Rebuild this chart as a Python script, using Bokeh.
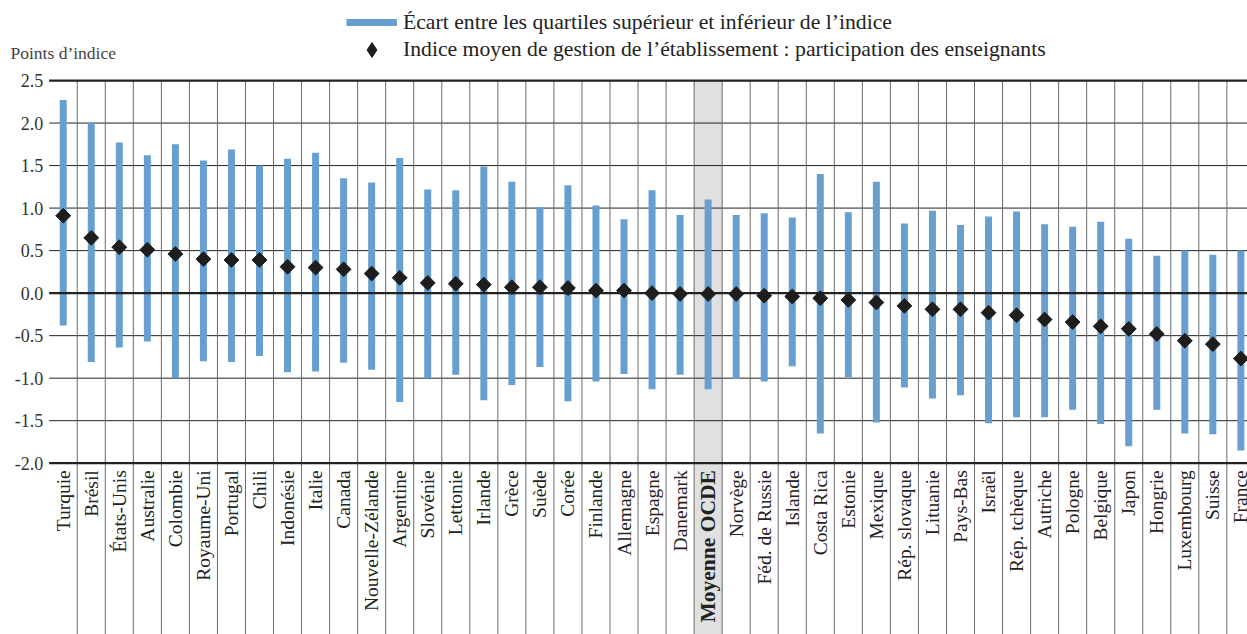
import math
from bokeh.plotting import figure
from bokeh.models import Range1d, Legend, LegendItem, Label, BoxAnnotation
from bokeh.embed import file_html
from bokeh.resources import INLINE

# ---------------- data ----------------
countries = ["Turquie", "Brésil", "États-Unis", "Australie", "Colombie", "Royaume-Uni",
             "Portugal", "Chili", "Indonésie", "Italie", "Canada", "Nouvelle-Zélande",
             "Argentine", "Slovénie", "Lettonie", "Irlande", "Grèce", "Suède", "Corée",
             "Finlande", "Allemagne", "Espagne", "Danemark", "Moyenne OCDE", "Norvège",
             "Féd. de Russie", "Islande", "Costa Rica", "Estonie", "Mexique",
             "Rép. slovaque", "Lituanie", "Pays-Bas", "Israël", "Rép. tchèque",
             "Autriche", "Pologne", "Belgique", "Japon", "Hongrie", "Luxembourg",
             "Suisse", "France"]
upper_quartile = [2.27, 2.00, 1.77, 1.62, 1.75, 1.56, 1.69, 1.50, 1.58, 1.65, 1.35, 1.30,
                  1.59, 1.22, 1.21, 1.49, 1.31, 1.01, 1.27, 1.03, 0.87, 1.21, 0.92, 1.10,
                  0.92, 0.94, 0.89, 1.40, 0.95, 1.31, 0.82, 0.97, 0.80, 0.90, 0.96, 0.81,
                  0.78, 0.84, 0.64, 0.44, 0.50, 0.45, 0.50]
lower_quartile = [-0.38, -0.81, -0.64, -0.57, -1.00, -0.80, -0.81, -0.74, -0.93, -0.92,
                  -0.82, -0.90, -1.28, -1.00, -0.96, -1.26, -1.08, -0.87, -1.27, -1.04,
                  -0.95, -1.13, -0.96, -1.13, -1.01, -1.04, -0.86, -1.65, -0.99, -1.52,
                  -1.11, -1.24, -1.20, -1.53, -1.46, -1.46, -1.37, -1.54, -1.80, -1.37,
                  -1.65, -1.66, -1.85]
mean_index = [0.91, 0.65, 0.54, 0.51, 0.46, 0.40, 0.39, 0.39, 0.31, 0.30, 0.28, 0.23,
              0.18, 0.12, 0.11, 0.10, 0.07, 0.07, 0.06, 0.03, 0.03, 0.00, -0.01, -0.01,
              -0.01, -0.03, -0.04, -0.06, -0.08, -0.11, -0.15, -0.19, -0.19, -0.23,
              -0.26, -0.31, -0.34, -0.39, -0.42, -0.48, -0.56, -0.60, -0.77]
y_ticks = [-2.0, -1.5, -1.0, -0.5, 0.0, 0.5, 1.0, 1.5, 2.0, 2.5]
y_tick_labels = ["-2.0", "-1.5", "-1.0", "-0.5", "0.0", "0.5", "1.0", "1.5", "2.0", "2.5"]
highlight = "Moyenne OCDE"
legend_range = "Écart entre les quartiles supérieur et inférieur de l’indice"
legend_mean = "Indice moyen de gestion de l’établissement : participation des enseignants"
y_title = "Points d’indice"

# ---------------- styles ----------------
BLUE = "#67a0d0"
DARK = "#1e1e1e"
GRID = "#222222"
VGRID = "#6a6a6a"
SERIF = "Liberation Serif"
SANS = "DejaVu Sans"

n = len(countries)
xs = [i + 0.5 for i in range(n)]
hi = countries.index(highlight)
bounds = list(range(1, n))
y_lo, y_hi = y_ticks[0], y_ticks[-1]

# The frame covers the whole canvas; the ranges are padded so that the value
# scale (-2.0 .. 2.5) sits where it does in the original and the category
# labels / legend live inside the frame.
Y_START, Y_END = -4.014, 3.441
X_START, X_END = -1.737, 42.736
p = figure(width=1247, height=634, output_backend="svg", toolbar_location=None,
           x_range=Range1d(X_START, X_END), y_range=Range1d(Y_START, Y_END),
           x_axis_location=None, y_axis_location=None, min_border=0)
p.outline_line_color = None
p.background_fill_color = "white"
p.grid.visible = False

# highlight band for the OECD average (runs through the label area)
p.add_layout(BoxAnnotation(left=hi, right=hi + 1, top=y_hi,
                           fill_color="#e0e0e0", fill_alpha=1.0, line_color=None,
                           level="image"))

# horizontal grid lines
p.segment(x0=[0] * len(y_ticks), x1=[n] * len(y_ticks), y0=y_ticks, y1=y_ticks,
          line_color=GRID, line_width=1)
# category separators (down through the label area)
p.segment(x0=bounds, x1=bounds, y0=[Y_START] * len(bounds), y1=[y_hi] * len(bounds),
          line_color=VGRID, line_width=1)

# bars (interquartile range)
seg = p.segment(x0=xs, y0=lower_quartile, x1=xs, y1=upper_quartile,
                line_color=BLUE, line_width=7)
# thick lines at bottom, 0 and top of the value scale
thick = [y_lo, 0.0, y_hi]
p.segment(x0=[0] * 3, x1=[n] * 3, y0=thick, y1=thick, line_color=GRID, line_width=2.2)
# mean markers: a diamond (used as legend key) covered by a rotated square
sc_key = p.scatter(x=xs, y=mean_index, marker="diamond", size=13,
                   fill_color=DARK, line_color=DARK, line_width=1)
sc = p.scatter(x=xs, y=mean_index, marker="square", size=10.5, angle=math.pi / 4,
               fill_color=DARK, line_color=DARK, line_width=1)

# y tick labels
p.text(x=[0] * len(y_ticks), y=y_ticks, text=y_tick_labels, x_offset=-6,
       text_align="right", text_baseline="middle", text_font=SANS,
       text_font_size="18px", text_color="#333333")

# category labels (rotated), OECD average in bold
reg = [i for i, c in enumerate(countries) if c != highlight]
p.text(x=[xs[i] for i in reg], y=[y_lo] * len(reg), text=[countries[i] for i in reg],
       angle=math.pi / 2, text_align="right", text_baseline="middle", y_offset=7,
       text_font=SERIF, text_font_size="19.5px", text_color="#222222")
p.text(x=[xs[hi]], y=[y_lo], text=[highlight],
       angle=math.pi / 2, text_align="right", text_baseline="middle", y_offset=7,
       text_font=SERIF, text_font_size="21.5px", text_font_style="bold",
       text_color="#222222")

# y-axis title
p.add_layout(Label(x=10, y=582, x_units="screen", y_units="screen", text=y_title,
                   text_font=SERIF, text_font_size="17.5px", text_color="#444444",
                   text_baseline="middle", text_align="left"))

# legend (two stacked one-item legends)
common = dict(spacing=0, padding=0, margin=0, label_standoff=6, glyph_width=51,
              border_line_color=None, background_fill_alpha=0,
              label_text_font=SERIF, label_text_font_size="21.7px",
              label_text_color="#222222")
p.add_layout(Legend(items=[LegendItem(label=legend_range, renderers=[seg])],
                    location=(346, 598), glyph_height=28, label_height=28, **common))
p.add_layout(Legend(items=[LegendItem(label=legend_mean, renderers=[sc_key])],
                    location=(346, 566), glyph_height=37, label_height=37, **common))

open("out.html", "w").write(file_html(p, INLINE))
